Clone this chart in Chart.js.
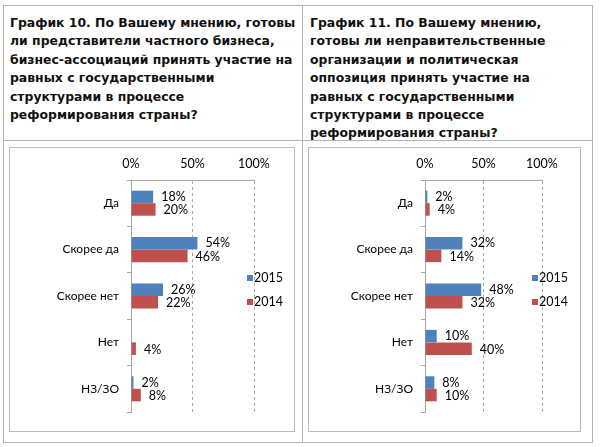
<!DOCTYPE html>
<html lang="ru">
<head>
<meta charset="utf-8">
<script src="https://cdn.jsdelivr.net/npm/chart.js@4/dist/chart.umd.min.js"></script>
<style>
  html, body { margin: 0; padding: 0; background: #fff; }
  body { width: 600px; height: 447px; position: relative; overflow: hidden; }
  .line { position: absolute; background: #b4b4b4; }
  .head {
    position: absolute; top: 14px;
    font-family: "DejaVu Sans", Verdana, sans-serif; font-weight: bold;
    font-size: 12.4px; line-height: 18.4px; color: #111; white-space: nowrap;
  }
  .box { position: absolute; border: 1px solid #bcbcbc; top: 147px; height: 283px; }
  .box canvas { position: absolute; left: 0; top: 0; }
  .legend { position: absolute; font-family: Lato, sans-serif; font-size: 12.5px; color: #000; }
  .legend div { position: absolute; white-space: nowrap; line-height: 14px; }
  .legend span { display: inline-block; width: 6px; height: 6px; margin-right: 1px; vertical-align: 1px; }
</style>
</head>
<body>

<!-- table lines -->
<div class="line" style="left:3px;top:5px;width:590px;height:1px"></div>
<div class="line" style="left:3px;top:140px;width:590px;height:1px"></div>
<div class="line" style="left:3px;top:442px;width:590px;height:1px"></div>
<div class="line" style="left:3px;top:5px;width:1px;height:438px"></div>
<div class="line" style="left:302px;top:5px;width:1px;height:438px"></div>
<div class="line" style="left:592px;top:5px;width:1px;height:438px"></div>

<div class="head" style="left:10px">График 10. По Вашему мнению, готовы<br>ли представители частного бизнеса,<br>бизнес-ассоциаций принять участие на<br>равных с государственными<br>структурами в процессе<br>реформирования страны?</div>
<div class="head" style="left:310px">График 11. По Вашему мнению,<br>готовы ли неправительственные<br>организации и политическая<br>оппозиция принять участие на<br>равных с государственными<br>структурами в процессе<br>реформирования страны?</div>

<div class="box" style="left:9px;width:284px">
  <canvas id="chart-business" width="284" height="283"></canvas>
  <div class="legend" style="left:237px;top:123px">
    <div style="top:0"><span style="background:#4F81BD"></span>2015</div>
    <div style="top:24px"><span style="background:#C0504D"></span>2014</div>
  </div>
</div>

<div class="box" style="left:308px;width:271px">
  <canvas id="chart-ngo" width="271" height="283"></canvas>
  <div class="legend" style="left:223px;top:123px">
    <div style="top:0"><span style="background:#4F81BD"></span>2015</div>
    <div style="top:24px"><span style="background:#C0504D"></span>2014</div>
  </div>
</div>

<script>
// answer categories, top to bottom
const categories = ['Да', 'Скорее да', 'Скорее нет', 'Нет', 'НЗ/ЗО'];
const seriesNames = ['2015', '2014'];

// chart 10: business
const business2015 = [18, 54, 26, 0, 2];
const business2014 = [20, 46, 22, 4, 8];

// chart 11: NGO and opposition
const ngo2015 = [2, 32, 48, 10, 8];
const ngo2014 = [4, 14, 32, 40, 10];

const xTicks = [0, 50, 100];

const blue = '#4F81BD';
const red = '#C0504D';
const axisGray = '#a6a6a6';

// value labels at the end of each bar, zeros are skipped
const barLabels = {
    id: 'barLabels',
    afterDatasetsDraw(chart) {
        const ctx = chart.ctx;
        ctx.save();
        ctx.font = '12.5px Lato';
        ctx.fillStyle = '#000';
        ctx.textBaseline = 'middle';
        ctx.textAlign = 'left';
        chart.data.datasets.forEach((ds, i) => {
            chart.getDatasetMeta(i).data.forEach((bar, j) => {
                if (!ds.data[j]) return;
                ctx.fillText(ds.data[j] + '%', bar.x + 8, bar.y + (i === 0 ? 0 : 1));
            });
        });
        ctx.restore();
    }
};

function makeChart(id, data2015, data2014, yWidth, rightPad) {
    const ctx = document.getElementById(id).getContext('2d');
    return new Chart(ctx, {
        type: 'bar',
        data: {
            labels: categories,
            datasets: [{
                label: seriesNames[0],
                data: data2015,
                backgroundColor: blue,
                categoryPercentage: 0.54,
                barPercentage: 1.0
            }, {
                label: seriesNames[1],
                data: data2014,
                backgroundColor: red,
                categoryPercentage: 0.54,
                barPercentage: 1.0
            }]
        },
        options: {
            indexAxis: 'y',
            responsive: false,
            animation: false,
            layout: {
                padding: { left: 0, right: rightPad, top: 0, bottom: 19 }
            },
            scales: {
                x: {
                    position: 'top',
                    min: 0,
                    max: 100,
                    afterBuildTicks: scale => {
                        scale.ticks = xTicks.map(v => ({ value: v }));
                    },
                    afterFit: scale => { scale.height = 32; },
                    ticks: {
                        padding: 9,
                        font: { family: 'Lato', size: 12.5 },
                        color: '#000',
                        callback: v => v + '%'
                    },
                    grid: {
                        drawTicks: false,
                        color: c => (c.tick && c.tick.value === 0) ? 'rgba(0,0,0,0)' : axisGray
                    },
                    border: { display: true, color: axisGray, dash: [3, 3] }
                },
                y: {
                    afterFit: scale => { scale.width = yWidth; },
                    ticks: {
                        padding: 8,
                        font: { family: 'Lato', size: 12 },
                        color: '#000'
                    },
                    grid: {
                        drawOnChartArea: false,
                        drawTicks: true,
                        tickLength: 4,
                        color: axisGray
                    },
                    border: { display: true, color: axisGray }
                }
            },
            plugins: {
                legend: { display: false },
                tooltip: { enabled: false }
            }
        },
        plugins: [barLabels]
    });
}

makeChart('chart-business', business2015, business2014, 121, 40);
makeChart('chart-ngo', ngo2015, ngo2014, 116, 38);
</script>
</body>
</html>
